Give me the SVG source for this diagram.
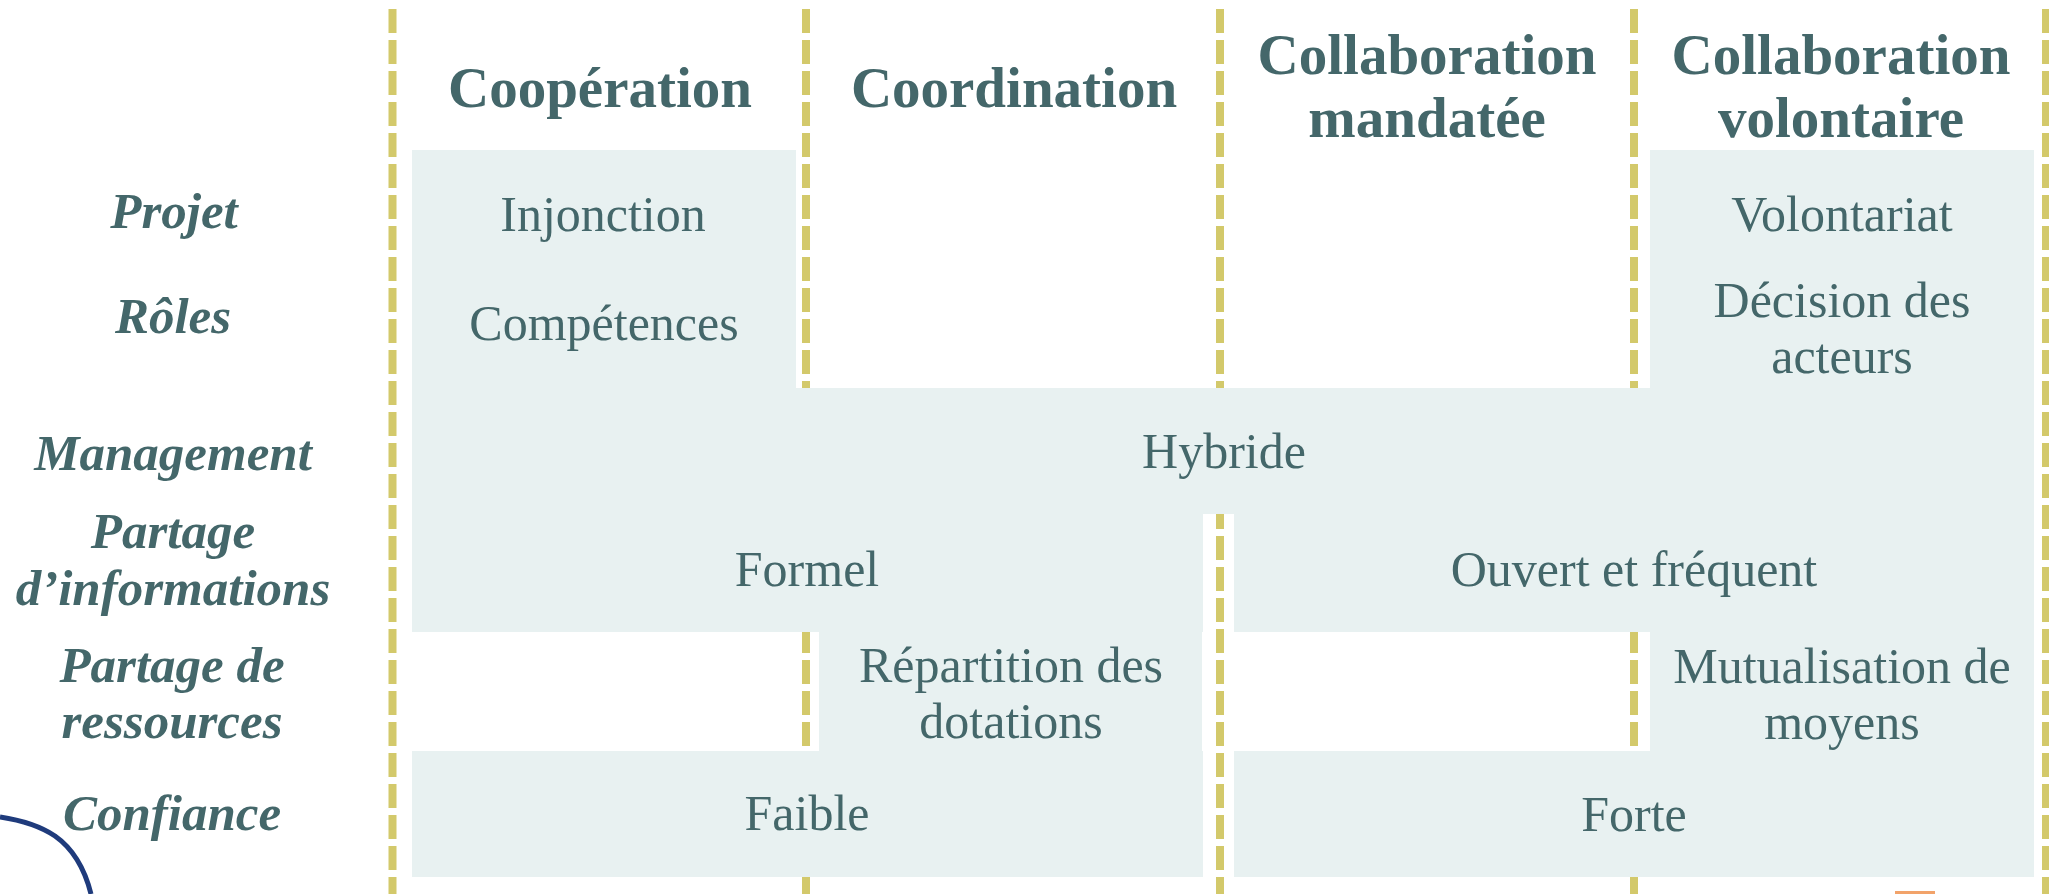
<svg xmlns="http://www.w3.org/2000/svg" width="2049" height="894" viewBox="0 0 2049 894">
<style>
.dash{stroke:#D3C96B;stroke-width:8;stroke-dasharray:24 7;fill:none}
.cell{fill:#E8F1F1}
.t{font-family:"Liberation Serif",serif;fill:#44676A;text-anchor:middle}
.h{font-size:57px;font-weight:bold}
.r{font-size:51px;font-weight:bold;font-style:italic}
.b{font-size:50px}
</style>
<rect width="2049" height="894" fill="#ffffff"/>
<g id="separators">
<line class="dash" x1="392.5" y1="9" x2="392.5" y2="894"/>
<line class="dash" x1="806" y1="9" x2="806" y2="894"/>
<line class="dash" x1="1220" y1="9" x2="1220" y2="894"/>
<line class="dash" x1="1634" y1="9" x2="1634" y2="894"/>
<line class="dash" x1="2046" y1="9" x2="2046" y2="894"/>
</g>
<g id="decor">
<path d="M0,817 C20,820 40,826 55,836 C72,848 84,866 91,894" fill="none" stroke="#1F3B7C" stroke-width="5"/>
<rect x="1895" y="891" width="40" height="3" fill="#F2A36A"/>
</g>
<g id="headers">
<text class="t h" x="600" y="107">Coopération</text>
<text class="t h" x="1014" y="107">Coordination</text>
<text class="t h" x="1427" y="74">Collaboration</text>
<text class="t h" x="1427" y="137">mandatée</text>
<text class="t h" x="1841" y="74">Collaboration</text>
<text class="t h" x="1841" y="137">volontaire</text>
</g>
<g id="row-labels">
<text class="t r" x="174" y="228">Projet</text>
<text class="t r" x="173" y="333">Rôles</text>
<text class="t r" x="173" y="470">Management</text>
<text class="t r" x="173" y="548">Partage</text>
<text class="t r" x="173" y="605">d’informations</text>
<text class="t r" x="172" y="682">Partage de</text>
<text class="t r" x="172" y="738">ressources</text>
<text class="t r" x="172" y="830">Confiance</text>
</g>
<g id="cell-injonction"><rect class="cell" x="412" y="150" width="384" height="240"/><text class="t b" x="603" y="231">Injonction</text><text class="t b" x="604" y="340">Compétences</text></g>
<g id="cell-volontariat"><rect class="cell" x="1650" y="150" width="384" height="240"/><text class="t b" x="1842" y="231">Volontariat</text><text class="t b" x="1842" y="317">Décision des</text><text class="t b" x="1842" y="373">acteurs</text></g>
<g id="cell-hybride"><rect class="cell" x="412" y="388" width="1622" height="126"/><text class="t b" x="1224" y="468">Hybride</text></g>
<g id="cell-formel"><rect class="cell" x="412" y="512" width="791" height="120"/><text class="t b" x="807" y="586">Formel</text></g>
<g id="cell-ouvert"><rect class="cell" x="1234" y="512" width="800" height="120"/><text class="t b" x="1634" y="586">Ouvert et fréquent</text></g>
<g id="cell-repartition"><rect class="cell" x="819" y="631" width="383" height="121"/><text class="t b" x="1011" y="682">Répartition des</text><text class="t b" x="1011" y="738">dotations</text></g>
<g id="cell-mutualisation"><rect class="cell" x="1650" y="631" width="384" height="121"/><text class="t b" x="1842" y="683">Mutualisation de</text><text class="t b" x="1842" y="739">moyens</text></g>
<g id="cell-faible"><rect class="cell" x="412" y="751" width="791" height="126"/><text class="t b" x="807" y="830">Faible</text></g>
<g id="cell-forte"><rect class="cell" x="1234" y="751" width="800" height="126"/><text class="t b" x="1634" y="831">Forte</text></g>
</svg>
